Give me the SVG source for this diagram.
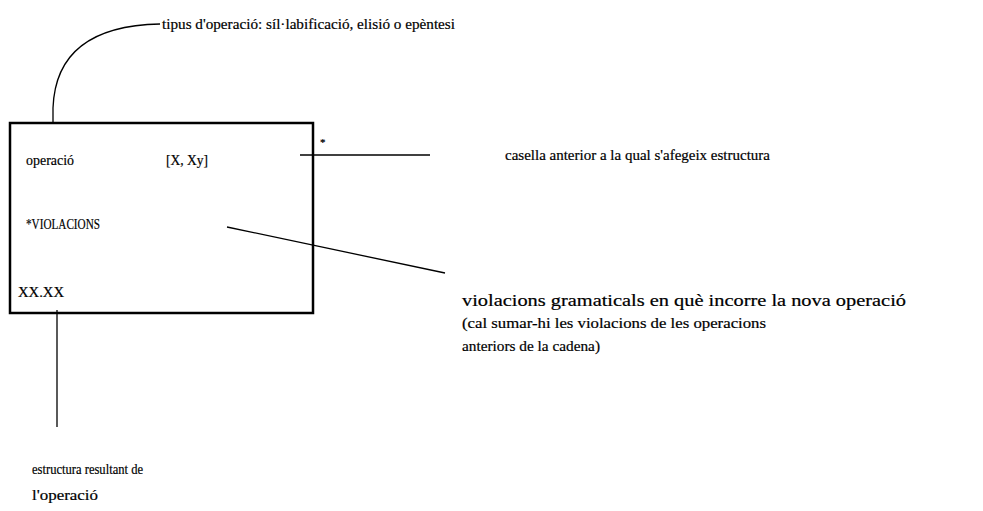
<svg xmlns="http://www.w3.org/2000/svg" width="983" height="511" viewBox="0 0 983 511">
<style>
text{font-family:"Liberation Serif","Times New Roman",serif;font-size:15px;fill:#000;stroke:#000;stroke-width:0.2}
.ln{fill:none;stroke:#000;stroke-width:1.3}
</style>
<rect width="983" height="511" fill="#fff"/>
<g id="box">
<rect x="10" y="123" width="303" height="190" fill="none" stroke="#000" stroke-width="2.5"/>
<text x="26" y="165" textLength="48" lengthAdjust="spacingAndGlyphs">operació</text>
<text x="166" y="165" textLength="42" lengthAdjust="spacingAndGlyphs">[X, Xy]</text>
<text x="26" y="229" textLength="74" lengthAdjust="spacingAndGlyphs">*VIOLACIONS</text>
<text x="18" y="297" textLength="46" lengthAdjust="spacingAndGlyphs">XX.XX</text>
<text x="320" y="146" style="font-size:11px">*</text>
</g>
<g id="labels">
<text x="162" y="29" textLength="293" lengthAdjust="spacingAndGlyphs">tipus d'operació: síl·labificació, elisió o epèntesi</text>
<text x="505" y="160" textLength="265" lengthAdjust="spacingAndGlyphs">casella anterior a la qual s'afegeix estructura</text>
<text x="462" y="306" textLength="444" lengthAdjust="spacingAndGlyphs" style="font-size:16px">violacions gramaticals en què incorre la nova operació</text>
<text x="462" y="328" textLength="304" lengthAdjust="spacingAndGlyphs">(cal sumar-hi les violacions de  les operacions</text>
<text x="462" y="351" textLength="138" lengthAdjust="spacingAndGlyphs">anteriors de la cadena)</text>
<text x="32" y="474" textLength="111" lengthAdjust="spacingAndGlyphs">estructura resultant de</text>
<text x="32" y="500" textLength="66" lengthAdjust="spacingAndGlyphs">l'operació</text>
</g>
<g id="connectors">
<path class="ln" d="M53,123 L53,108 Q56,26 160,24"/>
<path class="ln" d="M300,155 L430,155"/>
<path class="ln" d="M227,227 L445,273"/>
<path class="ln" d="M57,310 L57,427"/>
</g>
</svg>
